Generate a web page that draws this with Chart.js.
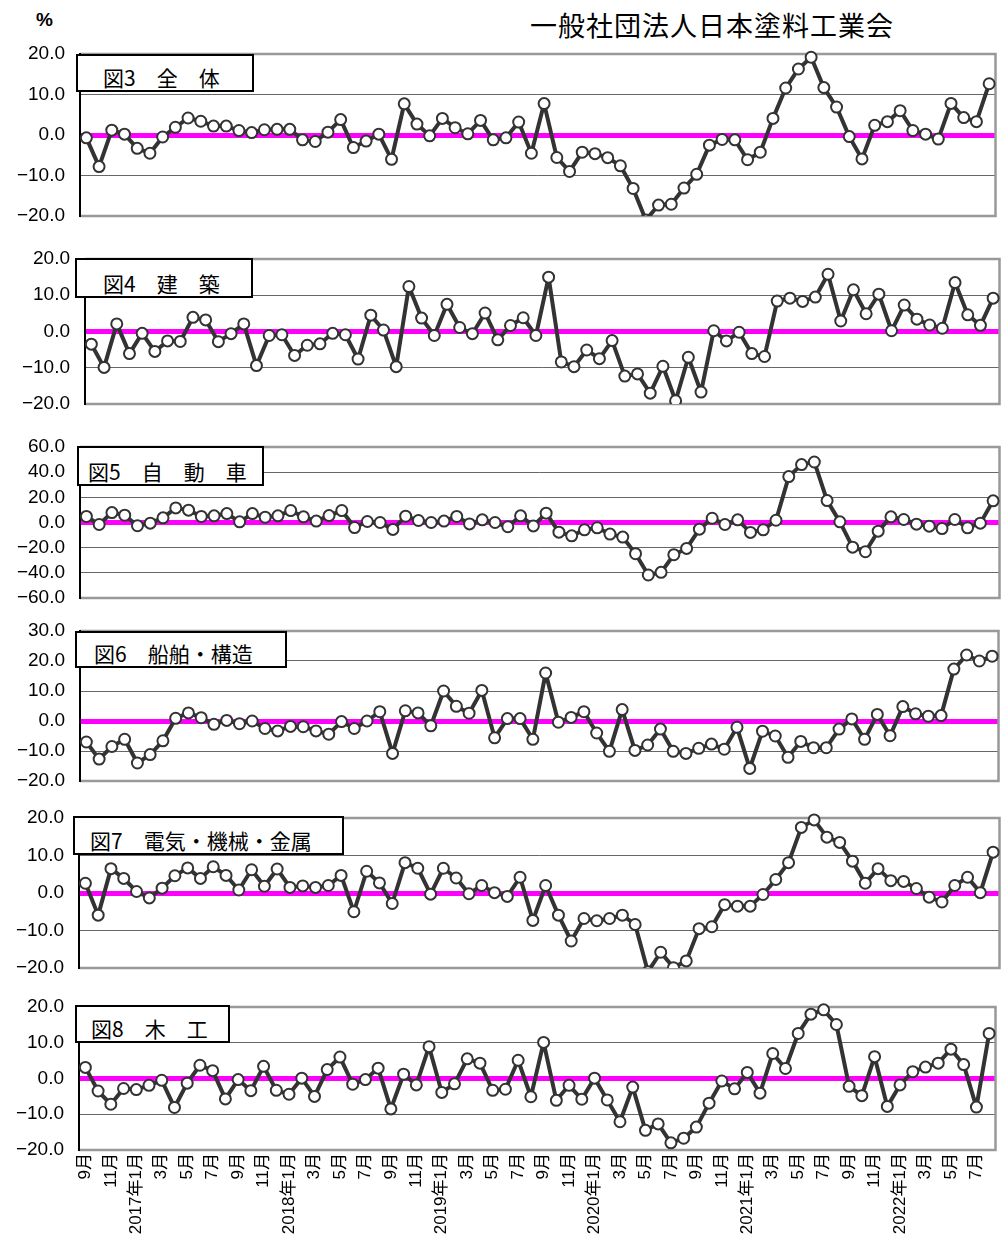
<!DOCTYPE html>
<html>
<head>
<meta charset="utf-8">
<script src="https://cdn.jsdelivr.net/npm/chart.js@4"></script>
<style>
  body { margin:0; background:#fff; width:1005px; height:1238px; position:relative; overflow:hidden;
         font-family:'Liberation Sans','Noto Sans CJK JP',sans-serif; }
  .pane { position:absolute; left:0; }
  .tbox { position:absolute; background:#fff; border:2px solid #000; box-sizing:border-box;
          font-family:'Noto Sans CJK JP',sans-serif; font-size:21px; color:#000; white-space:nowrap;
          display:flex; align-items:flex-end; padding:0 0 2px 0; line-height:1; z-index:5; }
  #pct { position:absolute; left:36px; top:9px; font-size:19px; font-weight:bold; }
  #org { position:absolute; left:530px; top:5px; font-size:27px; letter-spacing:1px;
         font-family:'Noto Sans CJK JP',sans-serif; }
</style>
</head>
<body>
<div id="pct">%</div>
<div id="org">一般社団法人日本塗料工業会</div>

<script>
// ── Months (Sep 2016 – Aug 2022) ─────────────────────────────
const months = [
    '9月','10月','11月','12月',
    '2017年1月','2月','3月','4月','5月','6月','7月','8月','9月','10月','11月','12月',
    '2018年1月','2月','3月','4月','5月','6月','7月','8月','9月','10月','11月','12月',
    '2019年1月','2月','3月','4月','5月','6月','7月','8月','9月','10月','11月','12月',
    '2020年1月','2月','3月','4月','5月','6月','7月','8月','9月','10月','11月','12月',
    '2021年1月','2月','3月','4月','5月','6月','7月','8月','9月','10月','11月','12月',
    '2022年1月','2月','3月','4月','5月','6月','7月','8月'
];

// ── Series (前年同月比 %) ────────────────────────────────────
const zentai = [-0.7,-7.8,1.2,0.2,-3.3,-4.5,-0.5,1.9,4.2,3.4,2.2,2.2,1.1,0.6,1.3,1.4,1.4,-1.2,-1.6,0.7,3.8,-3.1,-1.5,0.2,-6.0,7.7,2.7,-0.2,4.1,1.8,0.3,3.6,-1.2,-0.7,3.2,-4.5,
    7.75,-5.55,-9.0,-4.25,-4.6,-5.6,-7.6,-13.2,-21,-17.3,-17.1,-13.1,-9.7,-2.5,-1.1,-1.2,-6.1,-4.25,4.1,11.6,16.3,19.2,11.7,6.9,-0.4,-5.9,2.4,3.3,6.0,1.1,0.2,-1.0,7.8,4.3,3.3,12.65];
const kenchiku = [-3.5,-9.9,2.1,-6.1,-0.5,-5.5,-2.6,-2.75,3.9,3.2,-2.8,-0.6,2.1,-9.4,-1.1,-0.9,-6.6,-3.8,-3.4,-0.5,-0.9,-7.6,4.5,0.4,-9.7,12.4,3.7,-1.1,7.5,1.1,-0.6,5.1,-2.3,1.65,3.8,-1.1,
    15.0,-8.4,-9.7,-5.1,-7.5,-2.5,-12.3,-11.7,-17.0,-9.6,-19.1,-7.1,-16.7,0.2,-2.6,-0.2,-6.1,-6.9,8.4,9.2,8.3,9.5,15.8,2.9,11.5,4.9,10.3,0.2,7.3,3.4,1.8,0.9,13.5,4.6,1.7,9.2];
const jidosha = [4.8,-1.6,7.9,5.8,-2.6,-0.5,3.7,11.6,9.8,4.8,5.3,7.1,0.5,7.1,4.2,5.3,9.5,4.5,1.1,5.5,9.5,-4.0,0.8,0.0,-5.5,5.0,1.6,0.0,1.1,4.8,-1.1,2.1,0.0,-3.4,5.3,-2.7,
    7.4,-7.7,-10.6,-5.8,-4.2,-9.2,-11.6,-24.8,-41.7,-39.6,-25.6,-20.6,-5.3,3.4,-1.6,2.1,-7.9,-5.8,1.8,36.5,46.0,48.1,17.4,0.5,-19.6,-23.2,-6.9,4.5,2.4,-1.3,-2.9,-4.8,2.4,-4.2,-0.5,17.2];
const senpaku = [-7.0,-12.7,-8.5,-6.1,-14.0,-11.2,-6.6,0.9,2.7,1.1,-1.1,0.2,-0.9,0.0,-2.5,-3.3,-1.8,-1.9,-3.3,-4.4,-0.2,-2.5,0.0,3.1,-10.8,3.4,2.7,-1.6,10.0,4.9,2.6,10.2,-5.6,0.8,0.8,-6.1,
    16.0,-0.4,1.2,3.1,-4.0,-10.1,3.8,-9.8,-8.0,-2.7,-10.1,-10.8,-9.1,-7.7,-9.4,-2.1,-15.8,-3.4,-5.0,-12.1,-6.8,-8.9,-8.9,-2.7,0.7,-6.1,2.2,-4.9,4.8,2.4,1.6,1.8,17.3,22.0,20.0,21.6];
const denki = [2.6,-5.9,6.5,3.9,0.4,-1.3,1.3,4.6,6.7,3.9,7.0,4.7,0.8,6.2,1.8,6.4,1.5,1.9,1.5,2.0,4.7,-5.0,5.8,2.7,-2.8,8.1,6.6,-0.3,6.6,4.0,-0.2,2.0,0.1,-0.9,4.2,-7.3,
    2.0,-5.9,-12.8,-6.8,-7.4,-6.8,-5.9,-8.4,-21,-15.8,-19.9,-18.1,-9.5,-9.0,-3.1,-3.5,-3.5,-0.4,3.6,8.1,17.5,19.5,14.9,13.5,8.5,2.6,6.5,3.3,3.1,1.2,-1.1,-2.4,2.0,4.2,0.1,10.9];
const mokko = [3.1,-3.5,-7.2,-2.8,-3.1,-1.9,-0.5,-8.1,-1.3,3.7,2.2,-5.7,-0.3,-3.4,3.4,-3.3,-4.4,0.1,-5.0,2.5,6.0,-1.6,-0.3,2.9,-8.5,1.2,-1.8,8.9,-3.9,-1.5,5.5,4.3,-3.3,-3.0,5.1,-5.1,
    10.1,-6.1,-1.9,-5.8,0.1,-6.0,-12.1,-2.4,-14.5,-12.7,-18.0,-16.7,-13.6,-6.9,-0.7,-2.9,1.7,-4.1,7.0,2.8,12.6,18.0,19.2,15.1,-2.2,-4.8,6.1,-7.8,-1.8,1.9,3.2,4.3,8.2,3.9,-8.0,12.6];

// ── Panel titles and y ranges ────────────────────────────────
const titles  = ['図3　全　体','図4　建　築','図5　自　動　車','図6　船舶・構造','図7　電気・機械・金属','図8　木　工'];
const yMins   = [-20, -20, -60, -20, -20, -20];
const yMaxs   = [ 20,  20,  60,  30,  20,  20];
const ySteps  = [ 10,  10,  20,  10,  10,  10];

// plot-area boxes [left, top, right, bottom], title boxes [x, y, w, h, text indent]
const panes = [
    { area:[80, 54, 997, 216],   box:[76, 54, 178, 38, 25] },
    { area:[85, 259, 1001, 404], box:[75, 258, 178, 40, 26] },
    { area:[80, 447, 1001, 598], box:[77, 446, 187, 40, 9] },
    { area:[80, 631, 1000, 781], box:[75, 631, 212, 37, 17] },
    { area:[79, 818, 1001, 968], box:[73, 816, 271, 39, 15] },
    { area:[79, 1007, 997, 1150], box:[75, 1005, 155, 38, 14] }
];
const seriesList = [zentai, kenchiku, jidosha, senpaku, denki, mokko];

const frame = {
    id: 'frame',
    beforeDatasetsDraw(chart) {
        const { ctx, chartArea: a } = chart;
        ctx.save();
        ctx.strokeStyle = '#999'; ctx.lineWidth = 2.5;
        ctx.beginPath();
        ctx.moveTo(a.left, a.top); ctx.lineTo(a.right, a.top);
        ctx.lineTo(a.right, a.bottom); ctx.lineTo(a.left, a.bottom);
        ctx.stroke();
        ctx.strokeStyle = '#000'; ctx.lineWidth = 2;
        ctx.beginPath(); ctx.moveTo(a.left, a.top - 1); ctx.lineTo(a.left, a.bottom + 1); ctx.stroke();
        ctx.restore();
    }
};

const fmtY = v => (v < 0 ? '−' + Math.abs(v).toFixed(1) : v.toFixed(1));

panes.forEach((p, i) => {
    const [L, T, R, B] = p.area;
    const last = i === panes.length - 1;
    const top = T - 12;
    const h = last ? 1238 - top : (B - T) + 24;
    const w = R + 6;

    const div = document.createElement('div');
    div.className = 'pane';
    div.style.top = top + 'px';
    div.style.width = w + 'px';
    div.style.height = h + 'px';
    const cv = document.createElement('canvas');
    cv.width = w; cv.height = h;
    div.appendChild(cv);
    document.body.appendChild(div);

    const tb = document.createElement('div');
    tb.className = 'tbox';
    tb.style.left = p.box[0] + 'px';
    tb.style.top = p.box[1] + 'px';
    tb.style.width = p.box[2] + 'px';
    tb.style.height = p.box[3] + 'px';
    tb.style.paddingLeft = p.box[4] + 'px';
    tb.textContent = titles[i];
    document.body.appendChild(tb);

    new Chart(cv.getContext('2d'), {
        type: 'line',
        data: {
            labels: months,
            datasets: [{
                data: seriesList[i],
                borderColor: '#333', borderWidth: 4, tension: 0,
                borderJoinStyle: 'round', borderCapStyle: 'round',
                pointRadius: 5.5, pointBorderWidth: 2,
                pointBackgroundColor: '#fff', pointBorderColor: '#333',
                clip: { left: 10, right: 10, top: 8, bottom: 0 }
            }]
        },
        options: {
            responsive: false, animation: false,
            layout: { padding: { top: 12, bottom: last ? 0 : 12, left: 0, right: 6 } },
            plugins: { legend: { display: false }, tooltip: { enabled: false } },
            scales: {
                x: {
                    offset: true,
                    grid: { display: false, drawTicks: false },
                    border: { display: false },
                    ticks: {
                        display: last, autoSkip: false, maxRotation: 90, minRotation: 90,
                        padding: 3, color: '#000',
                        font: { family: "'Liberation Sans','Noto Sans CJK JP'", size: 17 },
                        callback: (v, idx) => idx % 2 === 0 ? months[idx] : ''
                    },
                    afterFit: s => {
                        s.height = last ? 1238 - B : 0;
                        s.paddingLeft = 0; s.paddingRight = 0;
                    }
                },
                y: {
                    min: yMins[i], max: yMaxs[i],
                    border: { display: false },
                    grid: {
                        drawTicks: false,
                        color: c => c.tick && c.tick.value === 0 ? '#ff00ff' : '#666',
                        lineWidth: c => c.tick && c.tick.value === 0 ? 5 : 1
                    },
                    ticks: {
                        stepSize: ySteps[i], padding: 15, color: '#000', autoSkip: false,
                        font: { family: "'Liberation Sans'", size: 19 },
                        callback: v => fmtY(v)
                    },
                    afterFit: s => {
                        s.width = L;
                        s.paddingTop = 0; s.paddingBottom = 0;
                    }
                }
            }
        },
        plugins: [frame]
    });
});
</script>
</body>
</html>
